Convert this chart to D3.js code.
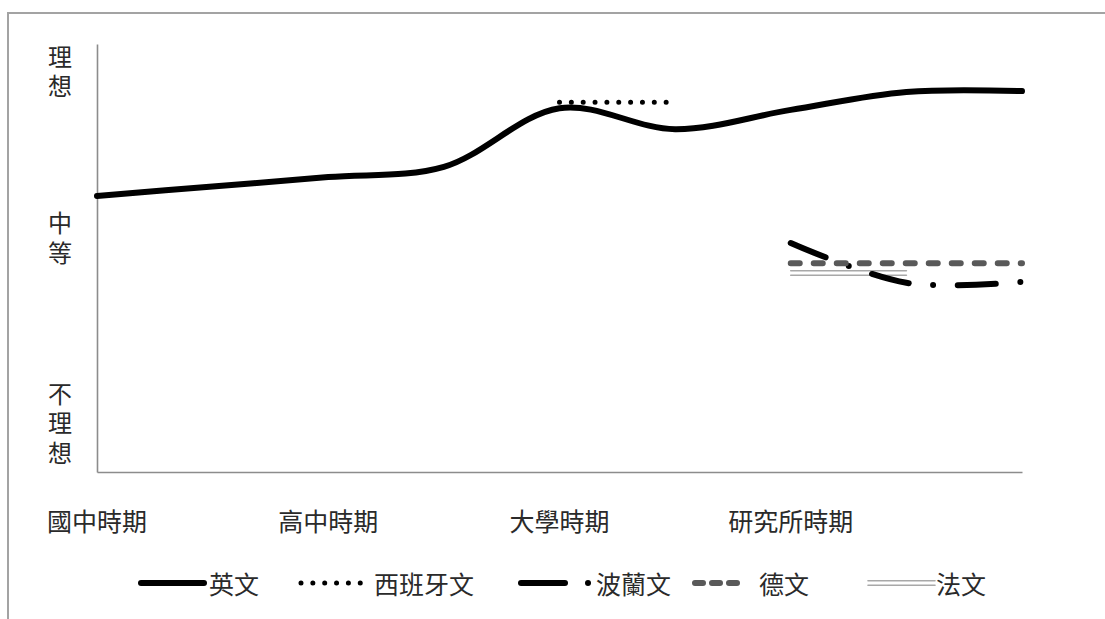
<!DOCTYPE html>
<html><head><meta charset="utf-8">
<script src="https://cdn.jsdelivr.net/npm/d3@7"></script>
<style>html,body{margin:0;padding:0;background:#fff;} svg{display:block}</style>
</head><body><svg id="chart" width="1105" height="619"></svg>
<script>
// Study periods along the horizontal axis
const periods = ["國中時期", "高中時期", "大學時期", "研究所時期"];
// Rating labels on the vertical axis (written top to bottom) and where they sit (0 = 不理想 … 100 = 理想)
const ratingLabels = ["理想", "中等", "不理想"];
const ratingTicks = [93, 54, 10.8];

// Each series: stage position (0 = 國中 … 3 = 研究所, 4 = now) and rating
const englishStage = [0, 0.5, 1, 1.5, 2, 2.5, 3, 3.5, 4];
const englishRating = [64.5, 66.7, 68.9, 71.3, 85.0, 80.1, 84.6, 88.8, 89.0];
const spanishStage = [2, 2.468];
const spanishRating = [86.4, 86.4];
const polishStage = [3, 3.5, 4];
const polishRating = [53.5, 44.2, 44.4];
const germanStage = [3, 4];
const germanRating = [48.8, 48.8];
const frenchStage = [3, 3.5];
const frenchRating = [46.5, 46.5];
const seriesNames = ["英文", "西班牙文", "波蘭文", "德文", "法文"];

const svg = d3.select("#chart");
const FONT = "'Noto Sans CJK TC', 'Noto Sans CJK SC', sans-serif";
const TEXT = "#2a2a2a";

// outer frame
svg.append("path").attr("d", "M8,619V13H1105")
  .attr("fill", "none").attr("stroke", "#a3a3a3").attr("stroke-width", 2);

const x = d3.scaleLinear().domain([0, 4]).range([97, 1022]);
const y = d3.scaleLinear().domain([0, 100]).range([472, 44]);

// axes (domain lines only)
const gx = svg.append("g").attr("transform", `translate(0,${y(0)})`)
  .call(d3.axisBottom(x).tickValues([]).tickSizeOuter(0));
const gy = svg.append("g").attr("transform", `translate(${x(0)},0)`)
  .call(d3.axisLeft(y).tickValues([]).tickSizeOuter(0));
[gx, gy].forEach(g => g.select(".domain").attr("stroke", "#8c8c8c").attr("stroke-width", 1.6));

// period labels
svg.append("g").selectAll("text").data(periods).join("text")
  .attr("x", (d, i) => x(i)).attr("y", 520)
  .attr("text-anchor", "middle").attr("dominant-baseline", "central")
  .attr("font-family", FONT).attr("font-size", 25).attr("fill", TEXT)
  .text(d => d);

// rating labels, written vertically
svg.append("g").selectAll("text").data(ratingLabels).join("text")
  .attr("x", 60).attr("y", (d, i) => y(ratingTicks[i]))
  .attr("writing-mode", "vertical-rl")
  .attr("text-anchor", "middle")
  .attr("letter-spacing", 5.5)
  .attr("font-family", FONT).attr("font-size", 24).attr("fill", TEXT)
  .text(d => d);

const line = d3.line().x(d => x(d[0])).y(d => y(d[1])).curve(d3.curveCatmullRom.alpha(0.5));
const zip = (a, b) => a.map((v, i) => [v, b[i]]);

const styles = {
  english: { stroke: "#000", width: 6, dash: null },
  spanish: { stroke: "#000", width: 5, dash: "0 11.85" },
  polish:  { stroke: "#000", width: 6, dash: "38 24.5 0 24.5" },
  german:  { stroke: "#595959", width: 6, dash: "9 14" },
  french:  { stroke: "#a8a8a8", width: 1.6, dash: null }
};

function drawPath(pts, s, dy = 0) {
  svg.append("path").datum(pts).attr("d", line)
    .attr("transform", dy ? `translate(0,${dy})` : null)
    .attr("fill", "none").attr("stroke", s.stroke).attr("stroke-width", s.width)
    .attr("stroke-linecap", "round").attr("stroke-linejoin", "round")
    .attr("stroke-dasharray", s.dash);
}

drawPath(zip(englishStage, englishRating), styles.english);
drawPath(zip(spanishStage, spanishRating), styles.spanish);
drawPath(zip(frenchStage, frenchRating), styles.french, -2.2);
drawPath(zip(frenchStage, frenchRating), styles.french, 2.2);
drawPath(zip(polishStage, polishRating), styles.polish);
drawPath(zip(germanStage, germanRating), styles.german);

// legend
const ly = 583;
const lg = svg.append("g");
function seg(x1, x2, s, dy = 0, dash) {
  lg.append("line").attr("x1", x1).attr("x2", x2).attr("y1", ly + dy).attr("y2", ly + dy)
    .attr("stroke", s.stroke).attr("stroke-width", s.width)
    .attr("stroke-linecap", "round").attr("stroke-dasharray", dash === undefined ? s.dash : dash);
}
function label(x0, t) {
  lg.append("text").attr("x", x0).attr("y", ly).attr("dominant-baseline", "central")
    .attr("font-family", FONT).attr("font-size", 25).attr("fill", TEXT).text(t);
}
seg(141, 204, styles.english);                label(209, seriesNames[0]);
seg(301, 361, styles.spanish);                label(374, seriesNames[1]);
seg(521, 565, styles.polish, 0, null);
seg(588, 588.01, styles.polish, 0, null);     label(596, seriesNames[2]);
seg(695, 737, styles.german, 0, "8 9");       label(759, seriesNames[3]);
seg(868, 935, styles.french, -2.2);
seg(868, 935, styles.french, 2.2);            label(936, seriesNames[4]);
</script></body></html>
